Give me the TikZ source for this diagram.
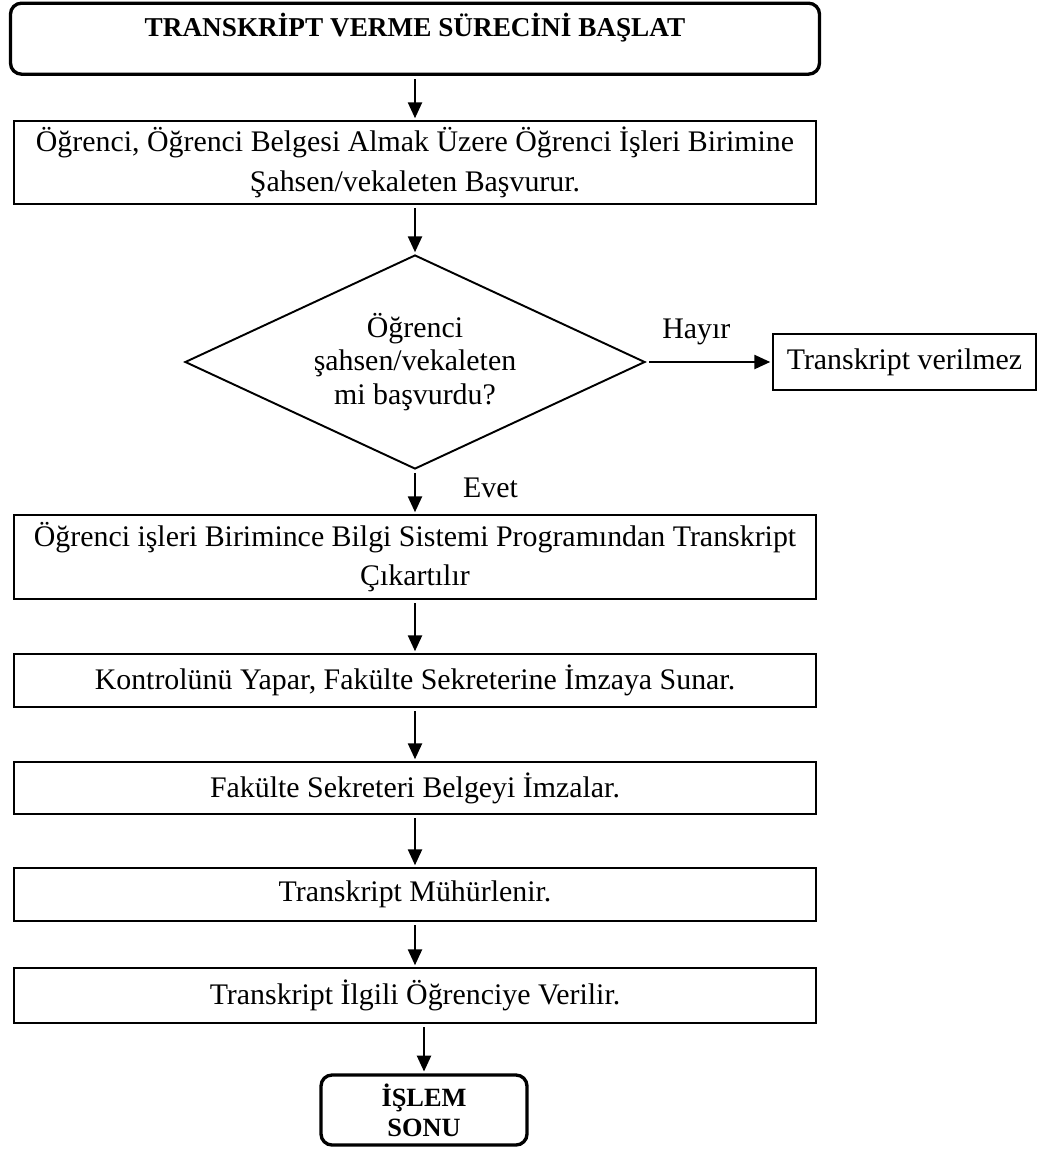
\documentclass[tikz,border=0pt]{standalone}
\usepackage{fontspec}
\setmainfont{Liberation Serif}
\usetikzlibrary{shapes,arrows.meta,positioning}

\begin{document}
\begin{tikzpicture}[
    every node/.style={font=\fontsize{17}{22.5}\selectfont},
    process/.style={rectangle, draw=black, line width=1.1pt, align=center, minimum width=16.04cm, minimum height=1.06cm, inner sep=0pt},
    terminal/.style={rectangle, draw=black, line width=1.9pt, rounded corners=0.22cm, align=center, inner sep=0pt, font=\bfseries\fontsize{15.5}{20}\selectfont},
    decision/.style={diamond, draw=black, line width=1.1pt, aspect=2.15, minimum width=9.2cm, minimum height=4.28cm, inner sep=0pt, align=center, font=\fontsize{17}{19.3}\selectfont},
    line/.style={draw, line width=1.4pt, -{Triangle[length=0.32cm, width=0.28cm]}, shorten <=2pt, shorten >=1pt}
  ]
    \useasboundingbox (0,0) rectangle (20.92,-23.06);

    % main column
    \node [terminal, anchor=north, minimum width=16.18cm, text height=0.67cm, text depth=0.75cm] (start) at (8.3,-0.03) {TRANSKRİPT VERME SÜRECİNİ BAŞLAT};
    \node [process, minimum height=1.66cm] (apply) at (8.3,-3.25) {Öğrenci, Öğrenci Belgesi Almak Üzere Öğrenci İşleri Birimine\\Şahsen/vekaleten Başvurur.};
    \node [decision] (check) at (8.3,-7.24) {Öğrenci\\şahsen/vekaleten\\mi başvurdu?};
    \node [process, minimum width=5.26cm, minimum height=1.12cm] (refuse) at (18.09,-7.24) {Transkript verilmez};
    \node [process, minimum height=1.68cm] (print) at (8.3,-11.14) {Öğrenci işleri Birimince Bilgi Sistemi Programından Transkript\\Çıkartılır};
    \node [process] (control) at (8.3,-13.61) {Kontrolünü Yapar, Fakülte Sekreterine İmzaya Sunar.};
    \node [process, minimum height=1.04cm] (sign) at (8.3,-15.76) {Fakülte Sekreteri Belgeyi İmzalar.};
    \node [process] (seal) at (8.3,-17.89) {Transkript Mühürlenir.};
    \node [process, minimum height=1.1cm] (deliver) at (8.3,-19.91) {Transkript İlgili Öğrenciye Verilir.};
    \node [terminal, minimum width=4.12cm, minimum height=1.4cm, font=\bfseries\fontsize{15}{17}\selectfont] (finish) at (8.48,-22.2) {İŞLEM\\SONU};

    \path [line] (start) -- (apply);
    \path [line] (apply) -- (check);
    \path [line] (check) -- node [above=0.31cm, pos=0.4, inner sep=0pt] {Hayır} (refuse);
    \path [line] (check) -- node [right=0.94cm, pos=0.41, inner sep=0pt] {Evet} (print);
    \path [line] (print) -- (control);
    \path [line] (control) -- (sign);
    \path [line] (sign) -- (seal);
    \path [line] (seal) -- (deliver);
    \path [line] (deliver.south -| finish.north) -- (finish.north);
\end{tikzpicture}
\end{document}
